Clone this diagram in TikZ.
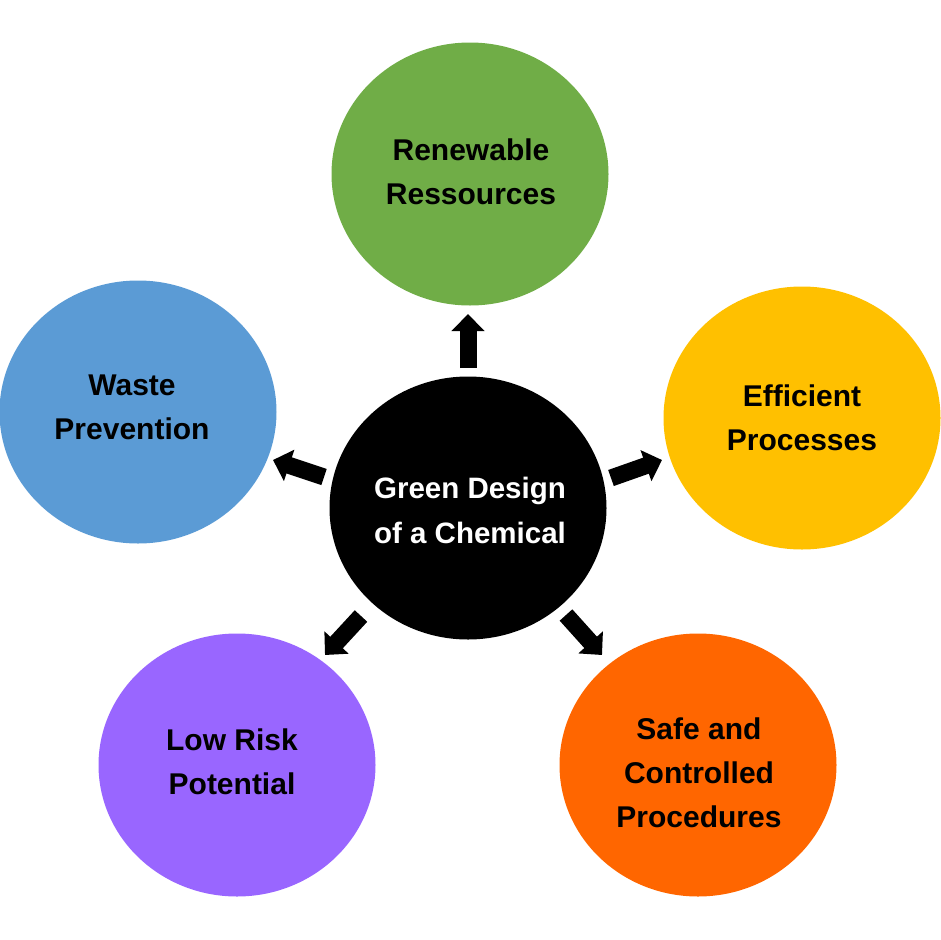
\documentclass[tikz,border=0pt]{standalone}
\usepackage{fontspec}
\setmainfont{Liberation Sans}
\usetikzlibrary{shapes.geometric,arrows.meta}
\definecolor{cgreen}{HTML}{70AD47}
\definecolor{cblue}{HTML}{5B9BD5}
\definecolor{cyellow}{HTML}{FFC000}
\definecolor{corange}{HTML}{FF6600}
\definecolor{cpurple}{HTML}{9966FF}
\tikzset{
  bubble/.style={ellipse, minimum width=277pt, minimum height=263pt, inner sep=0pt, draw=none},
  label/.style={align=center, inner sep=0pt, font=\bfseries\fontsize{30}{44}\selectfont},
  corelabel/.style={align=center, inner sep=0pt, text=white, font=\bfseries\fontsize{29.5}{45}\selectfont},
  bigarrow/.style={line width=17pt, -{Triangle[width=32pt,length=17pt]}}
}
\begin{document}
\begin{tikzpicture}[x=1pt,y=-1pt]
\useasboundingbox (0,0) rectangle (940,940);
% bubbles
\node[bubble, fill=black]   (core)   at (468,508) {};
\node[bubble, fill=cgreen]  (renew)  at (470,174) {};
\node[bubble, fill=cblue]   (waste)  at (138,412) {};
\node[bubble, fill=cyellow] (effic)  at (802,418) {};
\node[bubble, fill=cpurple] (risk)   at (237,765) {};
\node[bubble, fill=corange] (safe)   at (698,765) {};
% labels
\node[corelabel] (tcore)  at (470,510)   {Green Design\\of a Chemical};
\node[label] (trenew) at (471,172)   {Renewable\\Ressources};
\node[label] (twaste) at (132,407.5) {Waste\\Prevention};
\node[label] (teffic) at (802,417.5) {Efficient\\Processes};
\node[label] (trisk)  at (232,762)   {Low Risk\\Potential};
\node[label] (tsafe)  at (699,772.5) {Safe and\\Controlled\\Procedures};
% arrow ends
\coordinate (upT) at (468,368); \coordinate (upH) at (468,314);
\coordinate (lfT) at (324,477); \coordinate (lfH) at (273,460);
\coordinate (rtT) at (611,478); \coordinate (rtH) at (662,460);
\coordinate (llT) at (361,616); \coordinate (llH) at (325,655);
\coordinate (lrT) at (566,615); \coordinate (lrH) at (602,655);
\draw[bigarrow] (upT) -- (upH);
\draw[bigarrow] (lfT) -- (lfH);
\draw[bigarrow] (rtT) -- (rtH);
\draw[bigarrow] (llT) -- (llH);
\draw[bigarrow] (lrT) -- (lrH);
\end{tikzpicture}
\end{document}
